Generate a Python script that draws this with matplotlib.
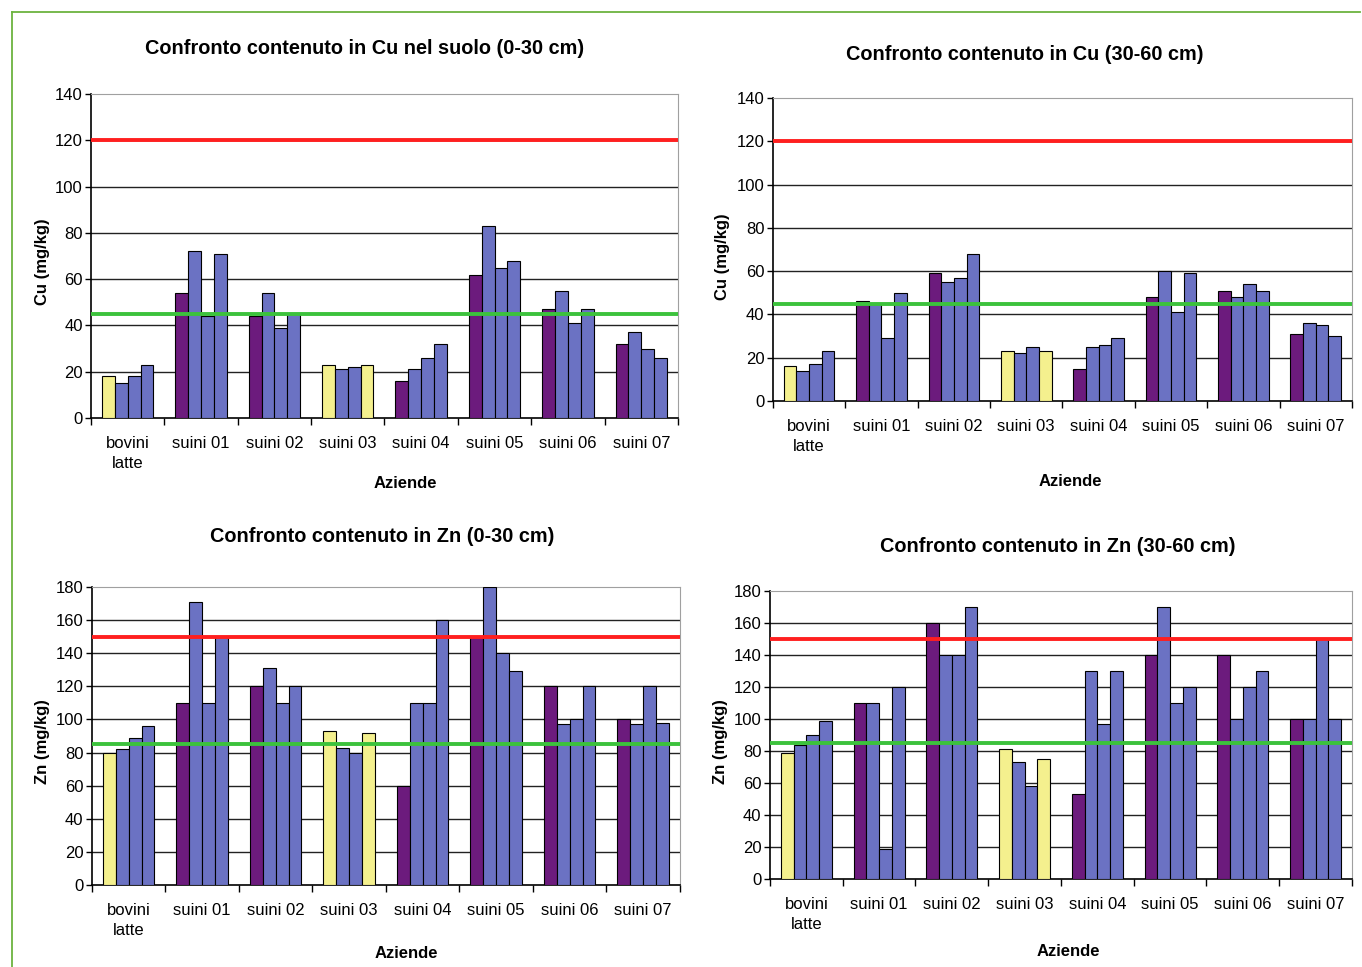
import matplotlib.pyplot as plt
from matplotlib.lines import Line2D
import numpy as np

plt.rcParams['font.family'] = ['Liberation Sans', 'DejaVu Sans']

aziende = ['bovini\nlatte', 'suini 01', 'suini 02', 'suini 03',
           'suini 04', 'suini 05', 'suini 06', 'suini 07']

# four samples per farm
cu_0_30 = [[18, 15, 18, 23], [54, 72, 44, 71], [44, 54, 39, 45], [23, 21, 22, 23],
           [16, 21, 26, 32], [62, 83, 65, 68], [47, 55, 41, 47], [32, 37, 30, 26]]
cu_30_60 = [[16, 14, 17, 23], [46, 45, 29, 50], [59, 55, 57, 68], [23, 22, 25, 23],
            [15, 25, 26, 29], [48, 60, 41, 59], [51, 48, 54, 51], [31, 36, 35, 30]]
zn_0_30 = [[80, 82, 89, 96], [110, 171, 110, 150], [120, 131, 110, 120], [93, 83, 80, 92],
           [60, 110, 110, 160], [150, 180, 140, 129], [120, 97, 100, 120], [100, 97, 120, 98]]
zn_30_60 = [[79, 84, 90, 99], [110, 110, 19, 120], [160, 140, 140, 170], [81, 73, 58, 75],
            [53, 130, 97, 130], [140, 170, 110, 120], [140, 100, 120, 130], [100, 100, 150, 100]]

cu_limits = [120, 45]
zn_limits = [150, 85]

YELLOW = '#f4f08e'
PURPLE = '#6c1b7d'
BLUE = '#6b72c3'


def bar_colors(g):
    cols = [PURPLE, BLUE, BLUE, BLUE]
    if g == 0:
        cols[0] = YELLOW
    if g == 3:
        cols[0] = YELLOW
        cols[3] = YELLOW
    return cols


def panel(fig, rect, data, limits, ymax, ylab, title, tpos, xlpos, ylpos):
    W, H = 1362.0, 967.0
    ax = fig.add_axes(rect)
    w = 0.175
    for g, vals in enumerate(data):
        cols = bar_colors(g)
        for j, v in enumerate(vals):
            ax.bar(g + (j - 1.5) * w, v, width=w, color=cols[j],
                   edgecolor='black', linewidth=0.8, zorder=3)
    ax.set_xlim(-0.5, 7.5)
    ax.set_ylim(0, ymax)
    ax.set_yticks(np.arange(0, ymax + 1, 20))
    for y in np.arange(20, ymax, 20):
        ax.axhline(y, color='#222222', lw=1.0, zorder=1)
    ax.axhline(limits[0], color='#ff1f1f', lw=2.8, zorder=4)
    ax.axhline(limits[1], color='#3cc23c', lw=2.8, zorder=4)
    ax.set_xticks(np.arange(-0.5, 8, 1))
    ax.set_xticklabels([])
    ax.set_xticks(np.arange(8), aziende, minor=True)
    for t in ax.get_xticklabels(minor=True):
        t.set_linespacing(1.45)
    ax.tick_params(axis='x', which='major', direction='out', length=5, width=1)
    ax.tick_params(axis='x', which='minor', length=0, labelsize=12, pad=13)
    ax.tick_params(axis='y', direction='out', length=4, width=1, labelsize=12, pad=2)
    for s in ['top', 'right']:
        ax.spines[s].set_color('#a0a0a0')
    for s in ['left', 'bottom']:
        ax.spines[s].set_linewidth(1.2)
    fig.text(tpos[0] / W, 1 - tpos[1] / H, title, ha='center', va='center',
             fontsize=14.3, fontweight='bold')
    fig.text(xlpos[0] / W, 1 - xlpos[1] / H, 'Aziende', ha='center', va='center',
             fontsize=12, fontweight='bold')
    fig.text(ylpos[0] / W, 1 - ylpos[1] / H, ylab, ha='center', va='center',
             rotation=90, fontsize=12, fontweight='bold')
    return ax


fig = plt.figure(figsize=(13.62, 9.67), dpi=100)

panel(fig, [0.0668, 0.5677, 0.431, 0.335], cu_0_30, cu_limits, 140, 'Cu (mg/kg)',
      'Confronto contenuto in Cu nel suolo (0-30 cm)', (365, 48), (405, 484), (42, 262))
panel(fig, [0.5675, 0.5853, 0.4251, 0.3133], cu_30_60, cu_limits, 140, 'Cu (mg/kg)',
      'Confronto contenuto in Cu (30-60 cm)', (1025, 55), (1070, 481), (722, 257))
panel(fig, [0.0675, 0.0848, 0.4317, 0.3082], zn_0_30, zn_limits, 180, 'Zn (mg/kg)',
      'Confronto contenuto in Zn (0-30 cm)', (382, 537), (406, 953), (42, 742))
panel(fig, [0.5653, 0.091, 0.4273, 0.2978], zn_30_60, zn_limits, 180, 'Zn (mg/kg)',
      'Confronto contenuto in Zn (30-60 cm)', (1058, 546), (1068, 952), (720, 742))

# green frame of the page
fig.add_artist(Line2D([12 / 1362, 12 / 1362], [0, 1 - 12 / 967],
                      color='#6cb33f', lw=1.3, transform=fig.transFigure))
fig.add_artist(Line2D([12 / 1362, 1360 / 1362], [1 - 12 / 967, 1 - 12 / 967],
                      color='#6cb33f', lw=1.3, transform=fig.transFigure))

plt.savefig('out.png', dpi=100)
plt.close()
